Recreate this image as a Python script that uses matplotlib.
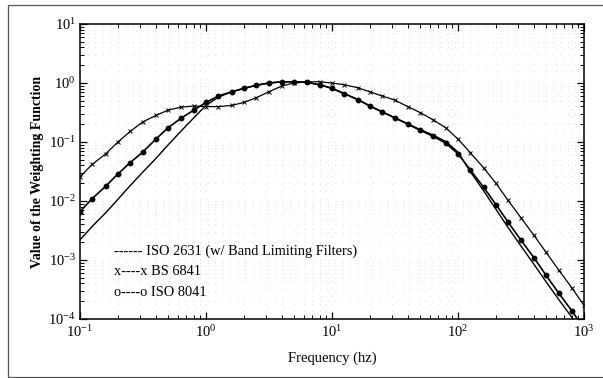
import matplotlib
matplotlib.use("Agg")
import matplotlib.pyplot as plt
from matplotlib.patches import Rectangle
from matplotlib.ticker import LogLocator, LogFormatterSciNotation, NullFormatter

plt.rcParams['font.family'] = ['Liberation Serif', 'DejaVu Serif']
plt.rcParams['mathtext.fontset'] = 'stix'

# one-third octave band centres, Hz
freq = [0.1, 0.125, 0.16, 0.2, 0.25, 0.315, 0.4, 0.5, 0.63, 0.8,
        1, 1.25, 1.6, 2, 2.5, 3.15, 4, 5, 6.3, 8,
        10, 12.5, 16, 20, 25, 31.5, 40, 50, 63, 80,
        100, 125, 160, 200, 250, 315, 400, 500, 630, 800, 1000]

iso2631 = [0.00219, 0.00372, 0.00631, 0.0107, 0.0182, 0.0309, 0.0525, 0.0891, 0.151, 0.257,
           0.417, 0.575, 0.708, 0.813, 0.912, 1.0, 1.047, 1.047, 1.023, 0.933,
           0.813, 0.661, 0.525, 0.407, 0.324, 0.257, 0.204, 0.162, 0.132, 0.102,
           0.0676, 0.0316, 0.0148, 0.00724, 0.00355, 0.00174, 0.000851, 0.000427,
           0.000214, 0.000107, 0.0000537]

bs6841 = [0.0257, 0.0417, 0.0631, 0.100, 0.151, 0.219, 0.282, 0.347, 0.389, 0.407,
          0.398, 0.398, 0.417, 0.468, 0.562, 0.708, 0.891, 1.0, 1.047, 1.047,
          1.0, 0.933, 0.832, 0.708, 0.603, 0.513, 0.398, 0.316, 0.240, 0.174,
          0.112, 0.0661, 0.0363, 0.0200, 0.0102, 0.00525, 0.00263, 0.00135,
          0.000676, 0.000339, 0.000170]

iso8041 = [0.00661, 0.0110, 0.0178, 0.0288, 0.0447, 0.0676, 0.112, 0.174, 0.251, 0.347,
           0.468, 0.603, 0.708, 0.813, 0.912, 1.0, 1.047, 1.047, 1.023, 0.933,
           0.813, 0.661, 0.525, 0.407, 0.324, 0.257, 0.200, 0.158, 0.126, 0.0955,
           0.0631, 0.0339, 0.0170, 0.00871, 0.00437, 0.00219, 0.00110, 0.000550,
           0.000275, 0.000138, 0.0000692]

legend_lines = ["------ ISO 2631 (w/ Band Limiting Filters)",
                "x----x BS 6841",
                "o----o ISO 8041"]

fig = plt.figure(figsize=(6.03, 3.78), dpi=100)
ax = fig.add_axes([80/603, 1 - 319/378, 504/603, 295/378])

ax.plot(freq, iso2631, color='black', lw=1.0)
ax.plot(freq, bs6841, color='black', lw=0.9, marker='x', ms=3.5, mew=0.7)
ax.plot(freq, iso8041, color='black', lw=1.2, marker='o', ms=3.2)

ax.set_xscale('log')
ax.set_yscale('log')
ax.set_xlim(0.1, 1000)
ax.set_ylim(1e-4, 10)

for axis in (ax.xaxis, ax.yaxis):
    axis.set_major_locator(LogLocator(base=10, numticks=10))
    axis.set_minor_locator(LogLocator(base=10, subs=range(2, 10), numticks=10))
    axis.set_major_formatter(LogFormatterSciNotation())
    axis.set_minor_formatter(NullFormatter())

ax.tick_params(which='both', direction='in', top=True, right=True, labelsize=10.5)
ax.tick_params(which='major', length=5, width=0.9)
ax.tick_params(which='minor', length=3, width=0.7)
ax.tick_params(axis='x', pad=4)
ax.tick_params(axis='y', pad=3)
for s in ax.spines.values():
    s.set_linewidth(1.1)

# sparse dotted grid
ax.grid(True, which='both', color='#b5b5b5', lw=0.45, linestyle=(0, (1, 11)))

ax.set_xlabel('Frequency (hz)', fontsize=10.5, labelpad=8)
ax.set_ylabel('Value of the Weighting Function', fontsize=10, fontweight='bold', labelpad=3)

for i, txt in enumerate(legend_lines):
    ax.text(114/603, 1 - (251 + i * 20.5)/378, txt, transform=fig.transFigure,
            fontsize=10.4, va='center', ha='left')

fig.patches.append(Rectangle((8/603, 1/378), 1.0, 372/378, transform=fig.transFigure,
                             fill=False, edgecolor='#555555', lw=0.9))

fig.savefig('out.png', dpi=100)
